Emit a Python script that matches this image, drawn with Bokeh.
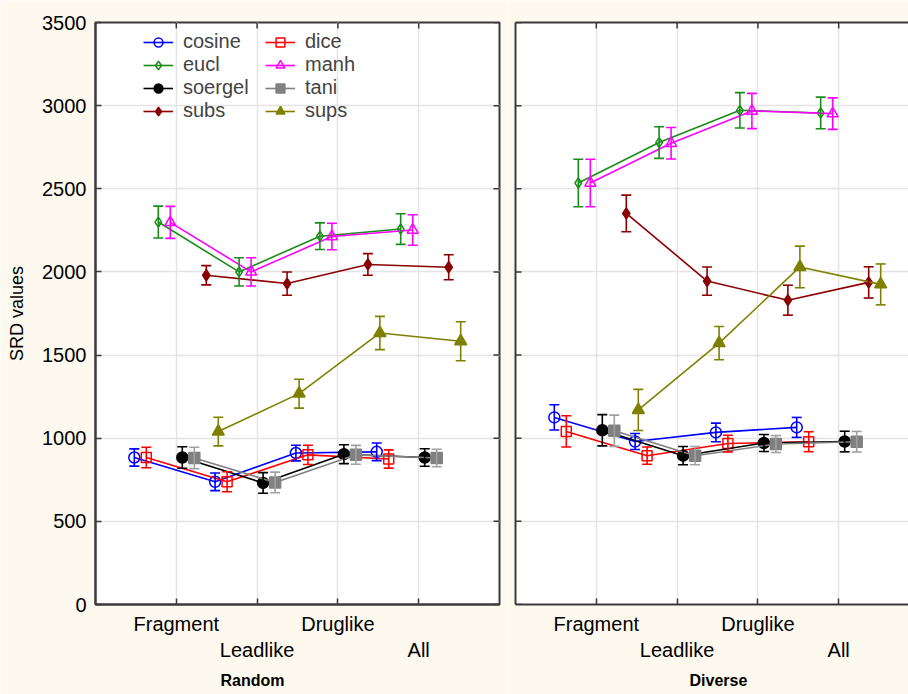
import numpy as np
from bokeh.plotting import figure
from bokeh.models import (ColumnDataSource, Range1d, FixedTicker, LinearAxis, Grid,
                          Whisker, TeeHead, Legend, LegendItem, Title)
from bokeh.layouts import row
from bokeh.embed import file_html
from bokeh.resources import INLINE

# ---------------- data ----------------
categories = ["Fragment", "Leadlike", "Druglike", "All"]
series_names = ["cosine", "dice", "eucl", "manh", "soergel", "tani", "subs", "sups"]
y_ticks = [0, 500, 1000, 1500, 2000, 2500, 3000, 3500]

random_mean = {
    "cosine":  [884, 738, 911, 918],
    "dice":    [884, 738, 900, 875],
    "eucl":    [2300, 2000, 2215, 2258],
    "manh":    [2298, 2000, 2213, 2252],
    "soergel": [884, 731, 904, 884],
    "tani":    [881, 734, 900, 881],
    "subs":    [1980, 1930, 2045, 2028],
    "sups":    [1040, 1268, 1633, 1583],
}
random_err = {
    "cosine":  [52, 53, 47, 53],
    "dice":    [62, 60, 58, 55],
    "eucl":    [96, 85, 80, 92],
    "manh":    [96, 85, 80, 92],
    "soergel": [65, 62, 57, 53],
    "tani":    [65, 62, 57, 53],
    "subs":    [58, 70, 65, 75],
    "sups":    [86, 87, 100, 117],
}
diverse_mean = {
    "cosine":  [1125, 980, 1035, 1065],
    "dice":    [1041, 895, 968, 979],
    "eucl":    [2535, 2778, 2972, 2956],
    "manh":    [2535, 2774, 2968, 2952],
    "soergel": [1048, 895, 971, 980],
    "tani":    [1045, 895, 965, 979],
    "subs":    [2352, 1945, 1830, 1937],
    "sups":    [1170, 1572, 2030, 1925],
}
diverse_err = {
    "cosine":  [76, 48, 56, 60],
    "dice":    [94, 52, 50, 60],
    "eucl":    [143, 95, 106, 95],
    "manh":    [143, 95, 106, 95],
    "soergel": [94, 55, 51, 62],
    "tani":    [94, 55, 51, 62],
    "subs":    [110, 85, 90, 94],
    "sups":    [124, 100, 125, 123],
}

# ---------------- styles ----------------
colors = {"cosine": "#0000FF", "dice": "#FF0000", "eucl": "#1A8C1A", "manh": "#FF00FF",
          "soergel": "#000000", "tani": "#808080", "subs": "#8B0000", "sups": "#808000"}
bar_colors = dict(colors, tani="#A0A0A0")
markers = {"cosine": "circle", "dice": "square", "eucl": "diamond", "manh": "triangle",
           "soergel": "circle", "tani": "square", "subs": "diamond", "sups": "triangle"}
filled = {"cosine": False, "dice": False, "eucl": False, "manh": False,
          "soergel": True, "tani": True, "subs": True, "sups": True}
msize = {"cosine": 11, "dice": 10, "eucl": 10, "manh": 11,
         "soergel": 11, "tani": 11, "subs": 11, "sups": 12}

BG = "#FDF9EE"
FONT = "Liberation Sans"
NARROW = "'Liberation Sans Narrow', 'Liberation Sans'"
FRAME = "#3A3A3A"
GRID = "#E4E4E4"
STEP = 0.1485
FRAME_W1 = 404
PX_PER_UNIT = FRAME_W1 / 5.0
TICK_LEN = 6


def tick_rays(p, xs, ys, angle):
    p.ray(x=xs, y=ys, length=TICK_LEN, length_units="screen", angle=angle,
          line_color=FRAME, line_width=1.5)


def make_panel(mean, err, width, x_end, left_border, right_border, first, title, title_offset):
    p = figure(width=width, height=694, x_range=Range1d(0, x_end), y_range=Range1d(0, 3500),
               output_backend="svg", toolbar_location=None,
               x_axis_location=None, y_axis_location=None,
               min_border_left=left_border, min_border_right=right_border,
               min_border_top=22, min_border_bottom=89,
               background_fill_color="white", border_fill_color=BG,
               outline_line_color=FRAME if first else None, outline_line_width=2)
    cat_pos = list(range(1, len(categories) + 1))
    p.add_layout(Grid(dimension=0, ticker=FixedTicker(ticks=cat_pos),
                      grid_line_color=GRID, grid_line_width=1.5))
    p.add_layout(Grid(dimension=1, ticker=FixedTicker(ticks=y_ticks),
                      grid_line_color=GRID, grid_line_width=1.5))

    if first:
        left = LinearAxis(ticker=FixedTicker(ticks=y_ticks), major_tick_in=TICK_LEN, major_tick_out=0,
                          minor_tick_line_color=None, axis_line_color=FRAME, axis_line_width=2,
                          major_tick_line_color=FRAME, major_tick_line_width=1.5,
                          major_label_text_font=FONT, major_label_text_font_size="20px",
                          major_label_standoff=9, major_label_text_color="black",
                          axis_label="SRD values", axis_label_text_font=NARROW,
                          axis_label_text_font_size="18px", axis_label_text_font_style="normal",
                          axis_label_standoff=12, axis_label_text_color="black")
        p.add_layout(left, "left")
        tick_rays(p, [x_end] * len(y_ticks), y_ticks, np.pi)
    else:
        left = LinearAxis(ticker=FixedTicker(ticks=[]), axis_line_color=FRAME, axis_line_width=2,
                          major_tick_line_color=None, minor_tick_line_color=None,
                          major_label_standoff=0)
        p.add_layout(left, "left")
        top = LinearAxis(ticker=FixedTicker(ticks=[]), axis_line_color=FRAME, axis_line_width=2,
                         major_tick_line_color=None, minor_tick_line_color=None,
                         major_label_standoff=0)
        p.add_layout(top, "above")
        tick_rays(p, [0] * len(y_ticks), y_ticks, 0.0)
    tick_rays(p, cat_pos, [3500] * len(cat_pos), -np.pi / 2)

    # bottom: staggered category labels (two text rows)
    ov = {c: (categories[c - 1] if c % 2 == 1 else "\n" + categories[c - 1]) for c in cat_pos}
    b1 = LinearAxis(ticker=FixedTicker(ticks=cat_pos), major_tick_in=TICK_LEN, major_tick_out=0,
                    minor_tick_line_color=None, axis_line_color=FRAME, axis_line_width=2,
                    major_tick_line_color=FRAME, major_tick_line_width=1.5,
                    major_label_overrides=ov,
                    major_label_text_font=FONT, major_label_text_font_size="20px",
                    major_label_standoff=8, major_label_text_color="black")
    p.add_layout(b1, "below")

    # panel name below the axis labels
    p.add_layout(Title(text=title, align="left", offset=title_offset, standoff=12,
                       text_font=FONT, text_font_size="16px", text_font_style="bold",
                       text_color="black"), "below")

    renderers = {}
    for i, name in enumerate(series_names):
        off = (i - 3.5) * STEP
        m = np.array(mean[name], dtype=float)
        e = np.array(err[name], dtype=float)
        x = np.array(cat_pos, dtype=float) + off
        src = ColumnDataSource(dict(x=x, y=m, upper=m + e, lower=m - e))
        bc = bar_colors[name]
        p.add_layout(Whisker(source=src, base="x", upper="upper", lower="lower", dimension="height",
                             line_color=bc, line_width=1.6, level="glyph",
                             upper_head=TeeHead(size=10, line_color=bc, line_width=1.6),
                             lower_head=TeeHead(size=10, line_color=bc, line_width=1.6)))
        ln = p.line("x", "y", source=src, line_color=colors[name], line_width=1.6)
        sc = p.scatter("x", "y", source=src, marker=markers[name], size=msize[name],
                       line_color=colors[name], line_width=1.5,
                       fill_color=colors[name] if filled[name] else None)
        renderers[name] = [ln, sc]

    if first:
        cols = [(["cosine", "eucl", "soergel", "subs"], 48),
                (["dice", "manh", "tani", "sups"], 170)]
        for names, xloc in cols:
            leg = Legend(items=[LegendItem(label=n, renderers=renderers[n]) for n in names],
                         location=(xloc, 482), orientation="vertical", padding=0, margin=0,
                         spacing=0, glyph_width=30, glyph_height=22, label_height=22,
                         label_standoff=10, label_text_font=FONT, label_text_font_size="20px",
                         border_line_color=None, background_fill_alpha=0)
            p.add_layout(leg)
    return p


# title offsets: left edge of the bold panel name, measured from the frame's left edge
p1 = make_panel(random_mean, random_err, 507, 5.0, 95, 8, True, "Random", 125)
p2 = make_panel(diverse_mean, diverse_err, 401, 393 / PX_PER_UNIT, 8, 0, False, "Diverse", 174)
p = row(p1, p2)

open("out.html", "w").write(file_html(p, INLINE))
